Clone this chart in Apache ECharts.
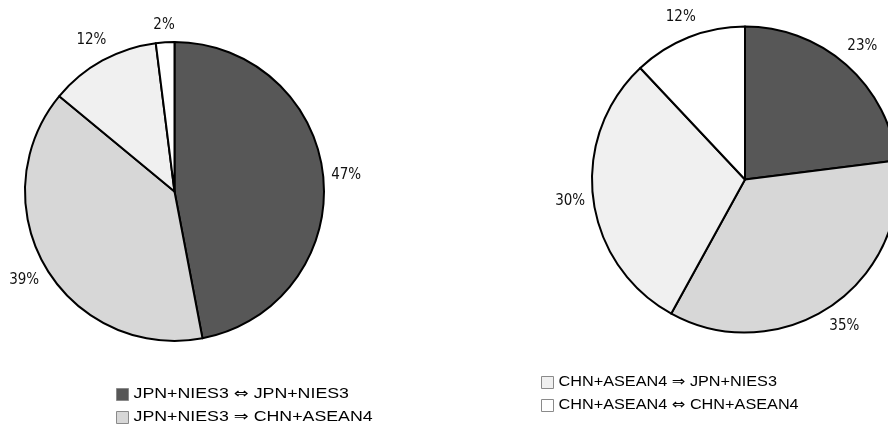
<!DOCTYPE html>
<html>
<head>
<meta charset="utf-8">
<script src="https://cdn.jsdelivr.net/npm/echarts@6/dist/echarts.min.js"></script>
<style>
  html, body { margin: 0; padding: 0; background: #fff; }
  #chart { width: 888px; height: 432px; }
</style>
</head>
<body>
<div id="chart"></div>
<script>
// Trade-flow categories (shared by both pies)
const categories = [
  'JPN+NIES3 ⇔ JPN+NIES3',
  'JPN+NIES3 ⇒ CHN+ASEAN4',
  'CHN+ASEAN4 ⇒ JPN+NIES3',
  'CHN+ASEAN4 ⇔ CHN+ASEAN4'
];
// Shares in percent
const leftShares = [47, 39, 12, 2];
const rightShares = [23, 35, 30, 12];

// Styling
const sliceColors = ['#575757', '#d7d7d7', '#f0f0f0', '#ffffff'];
const pies = [
  { center: [174.5, 191.5], radius: 149.5, values: leftShares },
  { center: [745, 179.5], radius: 153, values: rightShares }
];

// Place each percentage just outside the rim, along the slice's mid angle
function placeLabel(params) {
  const pie = pies[params.seriesIndex];
  const vals = pie.values;
  const total = vals.reduce((a, b) => a + b, 0);
  let before = 0;
  for (let k = 0; k < params.dataIndex; k++) before += vals[k];
  const theta = (before + vals[params.dataIndex] / 2) / total * Math.PI * 2;
  const dx = Math.sin(theta), dy = -Math.cos(theta);
  const w = params.labelRect.width, h = params.labelRect.height;
  const ext = Math.abs(dx) * (w / 2 + 1) + Math.abs(dy) * (h / 2 + 3);
  const d = pie.radius + 6 + ext;
  return {
    x: pie.center[0] + dx * d,
    y: pie.center[1] + dy * d,
    align: 'center',
    verticalAlign: 'middle'
  };
}

function pieSeries(idx) {
  const pie = pies[idx];
  return {
    type: 'pie',
    center: pie.center,
    radius: pie.radius,
    startAngle: 90,
    clockwise: true,
    avoidLabelOverlap: false,
    silent: true,
    data: pie.values.map((v, i) => ({
      name: categories[i],
      value: v,
      itemStyle: { color: sliceColors[i] }
    })),
    itemStyle: { borderColor: '#000', borderWidth: 2 },
    label: {
      show: true,
      position: 'outside',
      formatter: '{c}%',
      color: '#111',
      fontSize: 15,
      fontFamily: '"Liberation Sans Narrow", "DejaVu Sans Condensed", "Noto Sans CJK JP", sans-serif'
    },
    labelLine: { show: false, length: 6, length2: 0 },
    labelLayout: placeLabel
  };
}

// Legend blocks: first two flows under the left pie, last two under the right pie
function legendBlock(x, y, gap, indices, stretch) {
  const children = [];
  indices.forEach((ci, row) => {
    const cy = y + row * gap;
    children.push({
      type: 'rect',
      shape: { x: x, y: cy - 6, width: 12, height: 12 },
      style: { fill: sliceColors[ci], stroke: '#8a8a8a', lineWidth: 1 }
    });
    children.push({
      type: 'text',
      x: x + 17,
      y: cy,
      scaleX: stretch,
      style: {
        // arrows drawn with DejaVu Sans so both glyphs share one size
        text: categories[ci].replace(/([⇔⇒])/, '{ar|$1}'),
        fill: '#000',
        font: '14px "Liberation Sans", sans-serif',
        verticalAlign: 'middle',
        align: 'left',
        rich: {
          ar: { fontFamily: '"DejaVu Sans"', fontSize: 14, fill: '#000' }
        }
      }
    });
  });
  return { type: 'group', children: children };
}

const chart = echarts.init(document.getElementById('chart'), null, { renderer: 'canvas' });
chart.setOption({
  backgroundColor: '#ffffff',
  animation: false,
  series: [pieSeries(0), pieSeries(1)],
  graphic: [
    legendBlock(116.5, 394.5, 23, [0, 1], 1.27),
    legendBlock(541.5, 382.5, 23, [2, 3], 1.16)
  ]
});
</script>
</body>
</html>
